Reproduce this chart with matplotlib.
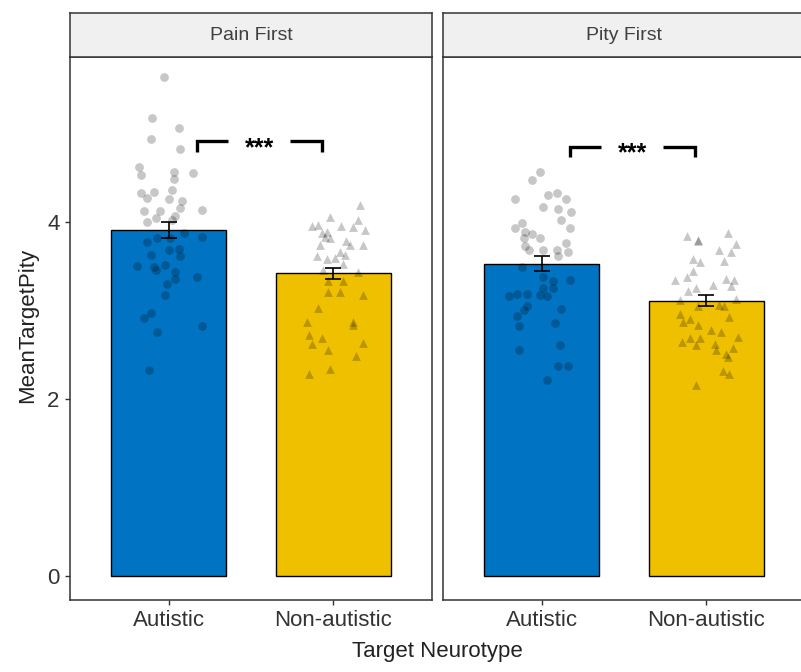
import numpy as np
import matplotlib
matplotlib.use('Agg')
import matplotlib.pyplot as plt

plt.rcParams['font.family'] = ['Liberation Sans', 'DejaVu Sans']

conditions = ['Pain First', 'Pity First']
neurotypes = ['Autistic', 'Non-autistic']
bar_colors = ['#0073C2', '#EFC000']
markers = ['o', '^']

pain_means = [3.91, 3.42]
pain_se = [0.09, 0.06]
pity_means = [3.53, 3.11]
pity_se = [0.08, 0.06]

# participant means and their horizontal jitter
pain_aut_y = [5.64, 5.17, 5.06, 4.94, 4.83, 4.62, 4.53, 4.57, 4.49, 4.55,
              4.33, 4.27, 4.34, 4.36, 4.26, 4.24, 4.16, 4.12, 4.12, 4.14,
              4.07, 4.04, 4.00, 4.02, 3.87, 3.83, 3.77, 3.82, 3.82, 3.70,
              3.68, 3.63, 3.62, 3.50, 3.49, 3.46, 3.51, 3.43, 3.36, 3.38,
              3.30, 3.18, 2.97, 2.91, 2.76, 2.82, 2.33]
pain_aut_jit = [-0.03, -0.10, 0.06, -0.11, 0.07, -0.18, -0.17, 0.03, 0.03, 0.15,
                -0.17, -0.13, -0.09, 0.02, 0.00, 0.08, 0.07, -0.15, -0.05, 0.20,
                0.04, -0.08, -0.13, 0.02, 0.09, 0.20, -0.13, -0.07, 0.01, 0.06,
                0.00, -0.11, 0.07, -0.19, -0.09, -0.08, -0.02, 0.04, 0.04, 0.17,
                -0.01, -0.02, -0.11, -0.15, -0.07, 0.20, -0.12]

pain_non_y = [4.19, 4.06, 4.02, 3.96, 3.97, 3.95, 3.94, 3.91, 3.87, 3.89,
              3.82, 3.83, 3.78, 3.74, 3.74, 3.74, 3.66, 3.63, 3.61, 3.58,
              3.59, 3.53, 3.46, 3.44, 3.33, 3.33, 3.21, 3.21, 3.18, 3.03,
              2.87, 2.87, 2.84, 2.72, 2.69, 2.62, 2.63, 2.55, 2.49, 2.28, 2.34]
pain_non_jit = [0.16, -0.02, 0.15, -0.13, -0.09, 0.05, 0.12, 0.19, -0.07, -0.04,
                -0.02, -0.05, 0.08, 0.10, 0.18, -0.08, 0.04, 0.07, -0.10, -0.04,
                0.01, 0.06, -0.06, 0.15, -0.03, 0.06, -0.03, 0.04, 0.18, -0.09,
                -0.16, 0.12, 0.12, -0.15, -0.07, -0.13, 0.18, -0.03, 0.14, -0.15, -0.02]

pity_aut_y = [4.56, 4.47, 4.26, 4.31, 4.33, 4.26, 4.17, 4.15, 4.11, 4.02,
              3.99, 3.93, 3.93, 3.89, 3.86, 3.82, 3.82, 3.76, 3.73, 3.68,
              3.68, 3.68, 3.66, 3.62, 3.49, 3.38, 3.33, 3.34, 3.25, 3.25,
              3.16, 3.19, 3.19, 3.18, 3.16, 3.05, 3.01, 3.02, 2.94, 2.86,
              2.82, 2.61, 2.55, 2.37, 2.37, 2.22]
pity_aut_jit = [-0.01, -0.06, -0.16, 0.04, 0.09, 0.15, 0.01, 0.10, 0.18, 0.12,
                -0.12, -0.16, 0.17, -0.10, -0.06, -0.11, -0.01, 0.15, -0.10, -0.08,
                0.01, 0.09, 0.16, 0.10, -0.12, 0.01, 0.07, 0.17, 0.01, 0.07,
                -0.20, -0.15, -0.09, -0.01, 0.03, -0.09, -0.11, 0.12, -0.15, 0.08,
                -0.14, 0.11, -0.14, 0.10, 0.16, 0.03]

pity_non_y = [3.88, 3.84, 3.80, 3.78, 3.75, 3.68, 3.66, 3.58, 3.55, 3.56,
              3.45, 3.34, 3.38, 3.36, 3.34, 3.28, 3.29, 3.22, 3.25, 3.12,
              3.13, 3.05, 3.06, 3.05, 2.96, 2.93, 2.90, 2.87, 2.84, 2.78,
              2.76, 2.69, 2.69, 2.70, 2.64, 2.61, 2.62, 2.55, 2.58, 2.51,
              2.47, 2.32, 2.28, 2.16]
pity_non_jit = [0.13, -0.12, -0.05, -0.05, 0.18, 0.08, 0.15, -0.08, -0.04, 0.11,
                -0.08, -0.19, -0.12, 0.12, 0.17, 0.15, 0.04, -0.11, -0.06, -0.16,
                0.18, -0.05, 0.08, 0.11, -0.16, 0.14, -0.10, -0.14, -0.05, 0.03,
                0.09, -0.10, -0.04, 0.19, -0.15, -0.06, 0.05, 0.06, 0.16, 0.12,
                0.13, 0.10, 0.14, -0.06]

sig_labels = ['***', '***']
sig_y = [4.91, 4.85]

panels = [
    (pain_means, pain_se, [(pain_aut_y, pain_aut_jit), (pain_non_y, pain_non_jit)]),
    (pity_means, pity_se, [(pity_aut_y, pity_aut_jit), (pity_non_y, pity_non_jit)]),
]

W, H = 801, 672
fig = plt.figure(figsize=(W / 100, H / 100), dpi=100)


def box(x0, y0, x1, y1):
    return [x0 / W, 1 - y1 / H, (x1 - x0) / W, (y1 - y0) / H]


edge = '#333333'
panel_x = [(70, 432), (443, 805)]
x = np.arange(1, 3)

for i, (means, se, pts) in enumerate(panels):
    x0, x1 = panel_x[i]
    ax = fig.add_axes(box(x0, 57, x1, 600))

    ax.bar(x, means, width=0.7, color=bar_colors, edgecolor='black',
           linewidth=1.0, zorder=1)
    for j, (yy, jit) in enumerate(pts):
        ax.scatter(x[j] + np.array(jit), yy, marker=markers[j], s=40,
                   color='black', alpha=0.22, linewidths=0, zorder=2)
    ax.errorbar(x, means, yerr=se, fmt='none', ecolor='black',
                elinewidth=1.2, capsize=6, capthick=1.2, zorder=3)

    # significance bracket with a gap for the label
    y_top = sig_y[i]
    y_bot = y_top - 0.12
    ax.plot([1.17, 1.17, 1.36], [y_bot, y_top, y_top], color='black',
            lw=2.4, solid_capstyle='butt', solid_joinstyle='miter', zorder=4)
    ax.plot([1.74, 1.93, 1.93], [y_top, y_top, y_bot], color='black',
            lw=2.4, solid_capstyle='butt', solid_joinstyle='miter', zorder=4)
    ax.annotate(sig_labels[i], (1.55, y_top), xytext=(0, -10),
                textcoords='offset points', ha='center', va='baseline',
                fontsize=18, fontweight='bold')

    ax.set_xlim(0.4, 2.6)
    ax.set_ylim(-0.271, 5.864)
    ax.set_xticks(x)
    ax.set_xticklabels(neurotypes)
    ax.set_yticks([0, 2, 4])
    ax.tick_params(direction='out', length=3.5, width=1, color=edge,
                   labelsize=16, labelcolor='#333333', pad=4)
    if i > 0:
        ax.tick_params(axis='y', left=False, labelleft=False)
    for sp in ax.spines.values():
        sp.set_color(edge)
        sp.set_linewidth(1.1)

    strip = fig.add_axes(box(x0, 13, x1, 57))
    strip.set_facecolor('#F0F0F0')
    strip.set_xticks([])
    strip.set_yticks([])
    for sp in strip.spines.values():
        sp.set_color(edge)
        sp.set_linewidth(1.1)
    strip.text(0.5, 0.5, conditions[i], ha='center', va='center',
               fontsize=14, color='#404040', transform=strip.transAxes)

fig.text(437 / W, 1 - 651 / H, 'Target Neurotype', ha='center', va='center',
         fontsize=16, color='#222222')
fig.text(28 / W, 1 - 325 / H, 'MeanTargetPity', ha='center', va='center',
         rotation=90, fontsize=16, color='#222222')

fig.savefig('out.png', dpi=100)
